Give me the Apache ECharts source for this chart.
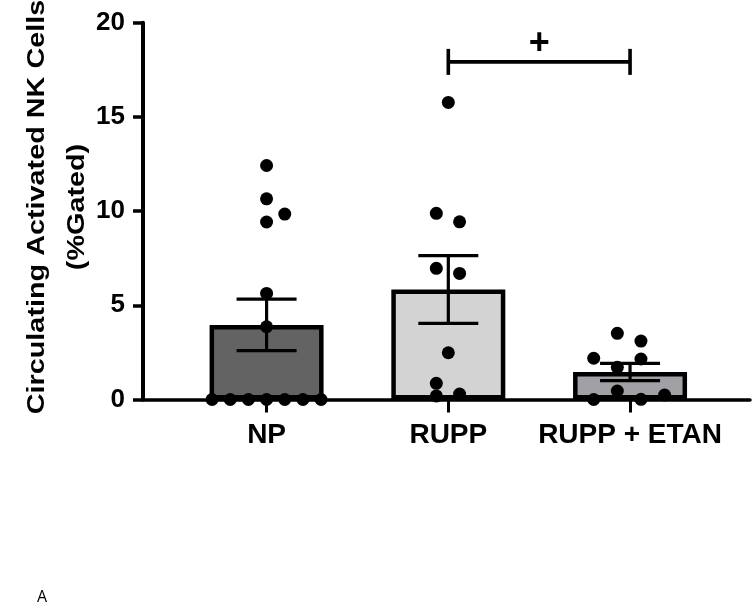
<!DOCTYPE html>
<html>
<head>
<meta charset="utf-8">
<script src="https://cdn.jsdelivr.net/npm/echarts@6/dist/echarts.min.js"></script>
<style>
html,body{margin:0;padding:0;background:#fff;}
#chart{width:753px;height:612px;}
</style>
</head>
<body>
<div id="chart"></div>
<script>
// ---- data ----
const categories = ['NP', 'RUPP', 'RUPP + ETAN'];
const barMeans = [3.96, 5.84, 1.46];
const barSEM = [1.37, 1.80, 0.46];
const barColors = ['#636363', '#d3d3d3', '#a0a0a5'];

const npValues  = [0, 0, 0, 0, 0, 0, 0, 3.86, 5.63, 9.42, 9.84, 10.65, 12.42];
const npJitter  = [-0.30, -0.20, -0.10, 0, 0.10, 0.20, 0.30, 0, 0, 0, 0.10, 0, 0];
const ruppValues = [15.77, 9.88, 9.43, 6.96, 6.69, 2.48, 0.86, 0.19, 0.29];
const ruppJitter = [0, -0.066, 0.062, -0.066, 0.062, 0, -0.066, -0.066, 0.062];
const etanValues = [3.51, 3.10, 2.19, 2.15, 1.71, 0.45, 0.24, 0, 0.01];
const etanJitter = [-0.07, 0.06, -0.20, 0.06, -0.07, -0.07, 0.19, -0.20, 0.06];

const yTicks = [0, 5, 10, 15, 20];
const sigFrom = 1, sigTo = 2, sigLevel = 17.92, sigMark = '+';
const yTitle = 'Circulating Activated NK Cells\n(%Gated)';
const panelLabel = 'A';

// ---- build ----
const groups = [
  {values: npValues, jitter: npJitter},
  {values: ruppValues, jitter: ruppJitter},
  {values: etanValues, jitter: etanJitter}
];
const pointData = [];
groups.forEach((g, gi) => g.values.forEach((v, i) => pointData.push([gi + g.jitter[i], v])));

const barData = barMeans.map((m, i) => ({value: [i, m], itemStyle: {color: barColors[i]}}));
const errData = barMeans.map((m, i) => [i, m - barSEM[i], m + barSEM[i]]);

const FONT = '"Liberation Sans", Arial, sans-serif';
const chart = echarts.init(document.getElementById('chart'), null, {renderer: 'canvas'});

chart.setOption({
  animation: false,
  backgroundColor: '#ffffff',
  grid: {left: 143, right: 3, top: 22.7, bottom: 212.5, containLabel: false},
  xAxis: {
    type: 'value',
    min: -0.68, max: 2.66,
    splitLine: {show: false},
    axisLine: {show: true, onZero: false, lineStyle: {color: '#000', width: 3.5}},
    axisTick: {show: true, customValues: [0, 1, 2], length: 13, lineStyle: {color: '#000', width: 3}},
    axisLabel: {
      show: true, customValues: [0, 1, 2], margin: 22,
      formatter: v => categories[Math.round(v)] || '',
      color: '#000', fontFamily: FONT, fontWeight: 'bold', fontSize: 28
    }
  },
  yAxis: {
    type: 'value', min: 0, max: 20, interval: 5,
    splitLine: {show: false},
    axisLine: {show: true, onZero: false, lineStyle: {color: '#000', width: 4}},
    axisTick: {show: true, length: 10, lineStyle: {color: '#000', width: 3.5}},
    axisLabel: {
      margin: 18, color: '#000', fontFamily: FONT, fontWeight: 'bold', fontSize: 26,
      formatter: v => yTicks.includes(v) ? String(v) : ''
    }
  },
  graphic: [
    {
      type: 'text', x: 57, y: 207, rotation: Math.PI / 2, scaleX: 1.2,
      style: {
        text: yTitle, fill: '#000', font: 'bold 24px ' + FONT,
        align: 'center', verticalAlign: 'middle', lineHeight: 40
      }
    },
    {
      type: 'text', left: 37, top: 589,
      style: {text: panelLabel, fill: '#000', font: '16px "Open Sans", "DejaVu Sans", sans-serif'}
    }
  ],
  series: [
    {
      type: 'bar', data: barData, barWidth: 114, z: 2,
      itemStyle: {borderColor: '#000', borderWidth: 4.5}
    },
    {
      type: 'custom', z: 3, data: errData,
      renderItem: (params, api) => {
        const x = api.value(0);
        const lo = api.coord([x, api.value(1)]);
        const hi = api.coord([x, api.value(2)]);
        const half = 30;
        const st = {stroke: '#000', lineWidth: 3.2};
        return {
          type: 'group', children: [
            {type: 'line', shape: {x1: lo[0], y1: lo[1], x2: hi[0], y2: hi[1]}, style: st},
            {type: 'line', shape: {x1: lo[0] - half, y1: lo[1], x2: lo[0] + half, y2: lo[1]}, style: st},
            {type: 'line', shape: {x1: hi[0] - half, y1: hi[1], x2: hi[0] + half, y2: hi[1]}, style: st}
          ]
        };
      }
    },
    {
      type: 'scatter', z: 4, data: pointData, symbol: 'circle', symbolSize: 13,
      itemStyle: {color: '#000', opacity: 1}
    },
    {
      type: 'custom', z: 5, data: [[sigFrom, sigTo, sigLevel]],
      renderItem: (params, api) => {
        const a = api.coord([api.value(0), api.value(2)]);
        const b = api.coord([api.value(1), api.value(2)]);
        const st = {stroke: '#000', lineWidth: 3.6};
        return {
          type: 'group', children: [
            {type: 'line', shape: {x1: a[0], y1: a[1], x2: b[0], y2: b[1]}, style: st},
            {type: 'line', shape: {x1: a[0], y1: a[1] - 13, x2: a[0], y2: a[1] + 13}, style: st},
            {type: 'line', shape: {x1: b[0], y1: b[1] - 13, x2: b[0], y2: b[1] + 13}, style: st},
            {type: 'text', x: (a[0] + b[0]) / 2, y: a[1] - 18,
             style: {text: sigMark, fill: '#000', font: 'bold 36px ' + FONT, align: 'center', verticalAlign: 'middle'}}
          ]
        };
      }
    }
  ]
});
</script>
</body>
</html>
